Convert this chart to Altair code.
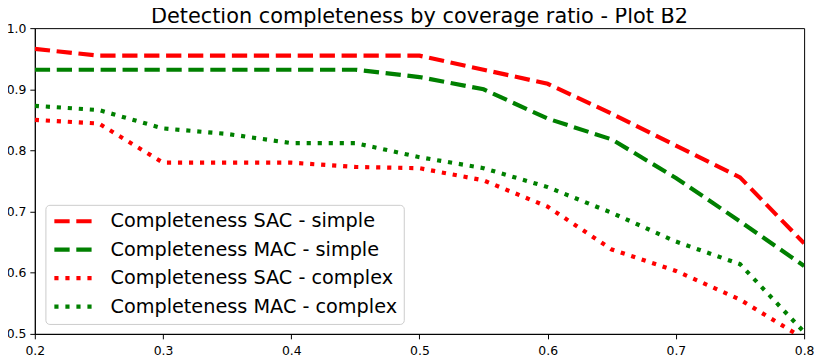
import altair as alt
import pandas as pd

x_vals = [0.2, 0.25, 0.3, 0.35, 0.4, 0.45, 0.5, 0.55, 0.6, 0.65, 0.7, 0.75, 0.8]
sac_simple = [0.966, 0.955, 0.955, 0.955, 0.955, 0.955, 0.955, 0.932, 0.909, 0.860, 0.808, 0.756, 0.648]
mac_simple = [0.932, 0.932, 0.932, 0.932, 0.932, 0.932, 0.920, 0.900, 0.852, 0.818, 0.755, 0.684, 0.611]
sac_complex = [0.850, 0.844, 0.780, 0.780, 0.780, 0.773, 0.771, 0.751, 0.708, 0.638, 0.603, 0.556, 0.492]
mac_complex = [0.873, 0.866, 0.836, 0.827, 0.812, 0.812, 0.789, 0.771, 0.740, 0.698, 0.651, 0.614, 0.503]

series_names = [
    "Completeness SAC - simple",
    "Completeness MAC - simple",
    "Completeness SAC - complex",
    "Completeness MAC - complex",
]
series_values = [sac_simple, mac_simple, sac_complex, mac_complex]
colors = ["#ff0000", "#008000", "#ff0000", "#008000"]
dashes = [[15.4, 6.7], [15.4, 6.7], [4.2, 6.9], [4.2, 6.9]]

x_ticks = [0.2, 0.3, 0.4, 0.5, 0.6, 0.7, 0.8]
y_ticks = [0.5, 0.6, 0.7, 0.8, 0.9, 1.0]

rows = []
for name, vals in zip(series_names, series_values):
    for i, (xv, yv) in enumerate(zip(x_vals, vals)):
        rows.append({"series": name, "x": xv, "y": yv, "idx": i})
df = pd.DataFrame(rows)

legend = alt.Legend(title=None, orient="none", legendX=10.7, legendY=178)

chart = alt.Chart(df).mark_line(strokeWidth=4.2, strokeCap="butt", clip=True).encode(
    x=alt.X("x:Q", scale=alt.Scale(domain=[0.2, 0.8], nice=False, zero=False),
            axis=alt.Axis(values=x_ticks, format=".1f", title=None, labelPadding=6, labelFlush=False)),
    y=alt.Y("y:Q", scale=alt.Scale(domain=[0.5, 1.0], nice=False, zero=False),
            axis=alt.Axis(values=y_ticks, format=".1f", title=None, labelPadding=4, labelFlush=False)),
    color=alt.Color("series:N", scale=alt.Scale(domain=series_names, range=colors), legend=legend),
    strokeDash=alt.StrokeDash("series:N", scale=alt.Scale(domain=series_names, range=dashes), legend=legend),
    order=alt.Order("idx:Q"),
).properties(
    width=775,
    height=308,
    autosize=alt.AutoSizeParams(type="none"),
    padding={"left": 27, "top": 19, "right": 16, "bottom": 22},
    title=alt.Title("Detection completeness by coverage ratio - Plot B2", frame="group"),
).configure_view(
    stroke="black", strokeWidth=1
).configure_axis(
    grid=False, domainColor="black", tickColor="black", labelColor="black",
    labelFont="DejaVu Sans", labelFontSize=12.5, tickSize=5, domainWidth=1, tickWidth=1,
).configure_legend(
    symbolType="stroke", symbolSize=1444, symbolStrokeWidth=4.2,
    labelFont="DejaVu Sans", labelFontSize=19.4, labelColor="black", labelOffset=16,
    labelLimit=0, padding=6.5, strokeColor="#cccccc", fillColor="rgba(255,255,255,0.8)",
    cornerRadius=4, clipHeight=20, rowPadding=8.7,
).configure_title(
    font="DejaVu Sans", fontSize=21, fontWeight="normal", color="black",
    anchor="middle", offset=-4.5, baseline="alphabetic",
)

chart.save("out.html", embed_options={"renderer": "svg", "actions": False})
